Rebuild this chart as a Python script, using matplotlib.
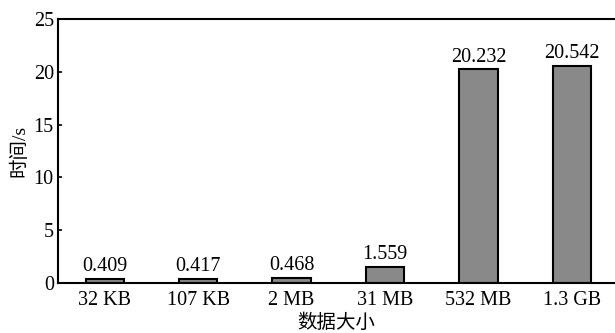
import matplotlib
matplotlib.use("Agg")
import matplotlib.pyplot as plt

plt.rcParams['font.family'] = ['Liberation Serif', 'Noto Sans CJK SC']
plt.rcParams['font.size'] = 14.5

sizes = ['32 KB', '107 KB', '2 MB', '31 MB', '532 MB', '1.3 GB']
times = [0.409, 0.417, 0.468, 1.559, 20.232, 20.542]

fig = plt.figure(figsize=(6.15, 3.33), dpi=100)
ax = fig.add_axes([0.0943, 0.150, 0.9057, 0.793])

x = range(len(sizes))
bars = ax.bar(x, times, width=0.41, color='#898989', edgecolor='black', linewidth=1.5)
for b, v in zip(bars, times):
    ax.text(b.get_x() + b.get_width() / 2, v + 0.25, f'{v:.3f}',
            ha='center', va='bottom', fontsize=14.5)

ax.set_xlim(-0.5, 5.46)
ax.set_ylim(0, 25)
ax.set_yticks([0, 5, 10, 15, 20, 25])
ax.set_xticks(list(x))
ax.set_xticklabels(sizes)
ax.tick_params(axis='y', direction='in', length=3, width=1.2, pad=3)
ax.tick_params(axis='x', length=0, pad=6)
ax.spines['right'].set_visible(False)
for s in ['left', 'bottom', 'top']:
    ax.spines[s].set_linewidth(1.5)

ax.set_xlabel('数据大小', fontsize=14, labelpad=2)
ax.set_ylabel('时间/s', fontsize=14, labelpad=4)

fig.savefig('out.png', dpi=100)
